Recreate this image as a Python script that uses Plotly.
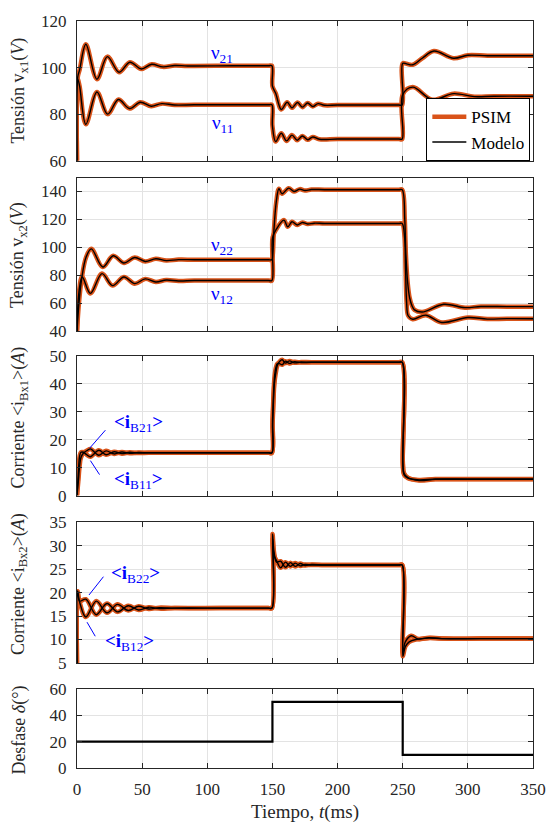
import plotly.graph_objects as go
from plotly.subplots import make_subplots

# ---- time axis ----
x_ticks = [0, 50, 100, 150, 200, 250, 300, 350]

# ---- panel 1: node voltages v21 / v11 (V) ----
t_v21 = [0, 0.6, 2, 6.8, 15.3, 23.3, 32.3, 40.6, 49.4, 57.3, 66, 75, 85, 120, 147, 149.6,
         150.0, 152.5, 156.8, 161.3, 165, 169.3, 173, 177, 181, 185, 190, 200, 230, 247, 249.6,
         250.0, 253, 257.7, 265, 274, 289, 300, 315, 335, 350]
v21 = [60, 96, 99, 110, 95, 104.7, 98, 102.3, 99.4, 101.4, 100.3, 100.9, 100.7, 100.8, 100.8,
       100.8, 92, 89, 82, 85.1, 82.7, 85, 83, 84.8, 83.3, 84.5, 83.8, 83.9, 83.9, 83.9, 83.9,
       101.8, 101.6, 101.2, 104, 107.1, 104, 105.3, 105.1, 105.1, 105.1]

t_v11 = [0, 0.6, 2, 6.8, 15.3, 23.5, 31.8, 40.3, 48.6, 57, 65, 75, 90, 120, 147, 149.6, 150.0,
         152.5, 156.8, 160.8, 165, 169, 173, 177, 181, 186, 200, 230, 247, 249.6, 250.0, 257.7,
         272.7, 289, 305, 320, 350]
v11 = [60, 95, 92, 75.6, 89.5, 80, 86.3, 82.4, 85.1, 83.4, 84.5, 83.9, 84, 84, 84, 84, 75,
       68.2, 71.8, 68.5, 71, 68.8, 70.6, 69, 70.2, 69.2, 69.3, 69.3, 69.3, 69.3, 88.4, 91.6,
       86.2, 88.8, 87.5, 87.7, 87.7]

# ---- panel 2: node voltages v22 / v12 (V) ----
t_v22 = [0, 1.5, 3.5, 7, 11, 19.8, 27.8, 36, 44.3, 52.4, 60.5, 68.5, 78, 90, 120, 147, 149.6,
         150.3, 151, 153, 155, 157.4, 162.5, 166.5, 171, 175, 180, 190, 220, 247, 249.6, 251.6,
         252.4, 253.8, 255.3, 257.2, 259, 265, 281.5, 297.8, 310, 330, 350]
v22 = [40, 60, 76.9, 93, 98.9, 85.9, 94, 88.8, 92.7, 89.9, 91.8, 90.5, 91.2, 91.1, 91.1, 91.1,
       91.1, 95, 110, 133, 142, 138.4, 142.4, 140, 141.7, 140.7, 141.4, 141.3, 141.3, 141.3,
       141.3, 119.5, 95.8, 74.6, 63.9, 58, 55.2, 53.7, 59.2, 56.8, 57.6, 57.5, 57.5]

t_v12 = [0, 1.5, 4, 10.3, 19.2, 27.3, 36, 44.3, 52.4, 60.5, 68.5, 78, 90, 120, 147, 149.6,
         150.1, 153, 158.8, 161.8, 165, 169, 173, 177, 182, 190, 220, 247, 249.6, 251.4, 252.2,
         253, 254.2, 257.7, 267.7, 280, 300, 315, 330, 350]
v12 = [40, 68, 78.8, 67, 81.2, 72.6, 78.8, 74, 77.4, 75.2, 76.6, 75.9, 76.2, 76.2, 76.2, 76.2,
       107, 113, 119.5, 114.7, 118.3, 116, 117.8, 116.7, 117.3, 117.1, 117.1, 117.1, 117.1,
       107.6, 84, 60.4, 51, 48.5, 51.4, 46.2, 49.7, 48.6, 48.9, 48.8]

# ---- panel 3: averaged currents <iB21> / <iB11> (A) ----
t_ib21 = [0, 1, 2, 3, 5, 8, 10.3, 16.8, 22.3, 28.5, 34.5, 40.5, 47, 55, 70, 110, 147, 149.6,
          150.1, 150.8, 151.5, 152.5, 153.8, 155.5, 157.5, 160, 163, 167, 172, 180, 215, 247,
          249.6, 250.1, 251, 254, 262.7, 275, 300, 350]
ib21 = [0, 5, 10.5, 13.5, 15.2, 16.2, 16.7, 14.4, 16.0, 14.9, 15.6, 15.1, 15.4, 15.3, 15.3, 15.3,
        15.3, 15.3, 24.8, 34, 40, 43.6, 46.6, 48, 48.6, 47.4, 48.2, 47.5, 47.8, 47.7, 47.7, 47.7,
        47.7, 12, 8, 6.4, 5.4, 5.8, 5.8, 5.8]

t_ib11 = [0, 1, 2, 3, 5, 7.5, 10.3, 16.8, 22.3, 28.5, 34.5, 40.5, 47, 55, 70, 110, 147, 149.6,
          150.1, 150.8, 151.5, 152.5, 153.8, 155.5, 157.5, 160, 163, 167, 172, 180, 215, 247,
          249.6, 250.1, 251, 254, 262.7, 275, 300, 350]
ib11 = [0, 8, 14, 15.5, 15.5, 14.6, 13.9, 16.2, 14.6, 15.7, 15.0, 15.5, 15.2, 15.3, 15.3, 15.3,
        15.3, 15.3, 27, 36, 42, 45.5, 47.2, 47.2, 46.8, 48.1, 47.3, 47.9, 47.6, 47.7, 47.7, 47.7,
        47.7, 11, 7.5, 6.2, 5.6, 5.9, 5.9, 5.9]

# ---- panel 4: averaged currents <iB22> / <iB12> (A) ----
t_ib22 = [0, 0.4, 2, 6.8, 14.8, 23, 31, 39.3, 47.3, 55, 63, 75, 110, 147, 149.6, 150.1, 151.2,
          153.2, 156.3, 160, 163.8, 167.5, 171.3, 175, 180, 190, 220, 247, 249.6, 250.1, 252,
          256.5, 262, 270, 280, 310, 350]
ib22 = [5, 20.3, 18.2, 18.6, 15.3, 17.7, 15.9, 17.2, 16.3, 16.9, 16.6, 16.7, 16.7, 16.7, 16.7,
        32.5, 28.7, 26.5, 26.7, 25.4, 26.4, 25.6, 26.2, 25.8, 26.0, 25.9, 25.9, 25.9, 25.9, 7.2,
        9.5, 10.8, 10.1, 10.4, 10.2, 10.2, 10.2]

t_ib12 = [0, 0.4, 2, 6.8, 14.8, 23, 31, 39.3, 47.3, 55, 63, 75, 110, 147, 149.6, 150.1, 151.2,
          153.2, 156.3, 160, 163.8, 167.5, 171.3, 175, 180, 190, 220, 247, 249.6, 250.1, 252,
          255, 260, 270, 280, 310, 350]
ib12 = [5, 20.3, 18.0, 14.8, 18.2, 15.7, 17.5, 16.2, 17.1, 16.5, 16.8, 16.7, 16.7, 16.7, 16.7,
        31.5, 28, 26.8, 25.3, 26.5, 25.6, 26.3, 25.7, 26.0, 25.9, 25.9, 25.9, 25.9, 25.9, 6.4,
        8.5, 9.5, 10.0, 10.3, 10.2, 10.2, 10.2]

# ---- panel 5: phase shift command (deg) ----
t_delta = [0, 150, 250, 350]
delta = [20, 50, 10, 10]

ORANGE = "#D95319"
AXIS = "#262626"
GRID = "#E3E3E3"
BLUE = "#0000FF"
FONT = "Liberation Serif"

W, H = 558, 830
L, R, T, B = 77, 15, 14, 62
plot_h = H - T - B

def frac(ypx):
    return (H - B - ypx) / plot_h

domains = [
    (frac(155), frac(14)),
    (frac(327), frac(172)),
    (frac(493), frac(352)),
    (frac(662), frac(520)),
    (frac(768), frac(688)),
]

fig = make_subplots(rows=5, cols=1, shared_xaxes=True)

panels = [
    [(t_v21, v21), (t_v11, v11)],
    [(t_v22, v22), (t_v12, v12)],
    [(t_ib21, ib21), (t_ib11, ib11)],
    [(t_ib22, ib22), (t_ib12, ib12)],
]

for row, series in enumerate(panels, start=1):
    for i, (t, y) in enumerate(series):
        fig.add_trace(go.Scatter(
            x=t, y=y, mode="lines", name="PSIM", legendgroup="psim",
            showlegend=(row == 1 and i == 0),
            line=dict(color=ORANGE, width=4.5, shape="spline", smoothing=1),
            hoverinfo="skip"), row=row, col=1)
    for i, (t, y) in enumerate(series):
        fig.add_trace(go.Scatter(
            x=t, y=y, mode="lines", name="Modelo", legendgroup="modelo",
            showlegend=(row == 1 and i == 0),
            line=dict(color="black", width=1.4, shape="spline", smoothing=1),
            hoverinfo="skip"), row=row, col=1)

fig.add_trace(go.Scatter(
    x=t_delta, y=delta, mode="lines", showlegend=False,
    line=dict(color="black", width=2.2, shape="hv"), hoverinfo="skip"), row=5, col=1)

y_ranges = [(60, 120), (40, 150), (0, 50), (5, 35), (0, 60)]
y_ticks = [
    [60, 80, 100, 120],
    [40, 60, 80, 100, 120, 140],
    [0, 10, 20, 30, 40, 50],
    [5, 10, 15, 20, 25, 30, 35],
    [0, 20, 40, 60],
]

for k in range(5):
    sfx = "" if k == 0 else str(k + 1)
    fig.layout["yaxis" + sfx].update(
        domain=list(domains[k]), range=list(y_ranges[k]), tickvals=y_ticks[k],
        showline=True, linecolor=AXIS, linewidth=1, mirror="ticks",
        ticks="inside", ticklen=5, tickcolor=AXIS, ticklabelstandoff=6,
        showgrid=True, gridcolor=GRID, gridwidth=1, zeroline=False,
        tickfont=dict(family=FONT, size=17, color=AXIS))
    fig.layout["xaxis" + sfx].update(
        range=[0, 350], tickvals=x_ticks,
        showline=True, linecolor=AXIS, linewidth=1, mirror="ticks",
        ticks="inside", ticklen=5, tickcolor=AXIS,
        showgrid=True, gridcolor=GRID, gridwidth=1, zeroline=False,
        showticklabels=(k == 4), ticklabelstandoff=6,
        tickfont=dict(family=FONT, size=17, color=AXIS))

# axis titles (rotated, one aligned column)
y_titles = [
    ("Tensión v<sub>x1</sub>(<i>V</i>)", 84),
    ("Tensión v<sub>x2</sub>(<i>V</i>)", 250),
    ("Corriente &lt;i<sub>Bx1</sub>&gt;(<i>A</i>)", 414),
    ("Corriente &lt;i<sub>Bx2</sub>&gt;(<i>A</i>)", 582),
    ("Desfase <i>δ</i>(°)", 730),
]
annotations = []
for text, ypx in y_titles:
    annotations.append(dict(
        text=text, xref="paper", yref="paper", x=(18 - L) / (W - L - R), y=frac(ypx),
        xanchor="center", yanchor="middle", textangle=-90, showarrow=False,
        font=dict(family=FONT, size=18, color=AXIS)))

annotations.append(dict(
    text="Tiempo, <i>t</i>(ms)", xref="paper", yref="paper", x=0.5, y=frac(812),
    xanchor="center", yanchor="middle", showarrow=False,
    font=dict(family=FONT, size=19, color=AXIS)))

# curve labels
labels = [
    ("x", "y", 111.5, 106, "ν<sub>21</sub>"),
    ("x", "y", 111.5, 75.7, "ν<sub>11</sub>"),
    ("x2", "y2", 111.5, 101, "ν<sub>22</sub>"),
    ("x2", "y2", 111.5, 65.5, "ν<sub>12</sub>"),
    ("x3", "y3", 47.5, 25.9, "<b>&lt;i</b><sub>B21</sub><b>&gt;</b>"),
    ("x3", "y3", 47.5, 5.7, "<b>&lt;i</b><sub>B11</sub><b>&gt;</b>"),
    ("x4", "y4", 45.0, 24.0, "<b>&lt;i</b><sub>B22</sub><b>&gt;</b>"),
    ("x4", "y4", 40.0, 9.4, "<b>&lt;i</b><sub>B12</sub><b>&gt;</b>"),
]
for xr, yr, xv, yv, text in labels:
    annotations.append(dict(
        text=text, xref=xr, yref=yr, x=xv, y=yv, xanchor="center", yanchor="middle",
        showarrow=False, font=dict(family=FONT, size=19, color=BLUE)))

# pointer lines from labels to curves
pointers = [
    ("x3", "y3", 9.8, 17.0, 21.8, 23.4),
    ("x3", "y3", 10.3, 12.5, 17.3, 7.5),
    ("x4", "y4", 9.2, 19.5, 20.3, 23.4),
    ("x4", "y4", 7.7, 13.7, 14.0, 10.7),
]
shapes = []
for xr, yr, x0, y0, x1, y1 in pointers:
    shapes.append(dict(type="line", xref=xr, yref=yr, x0=x0, y0=y0, x1=x1, y1=y1,
                       line=dict(color=BLUE, width=1)))

fig.update_layout(
    width=W, height=H,
    margin=dict(l=L, r=R, t=T, b=B),
    paper_bgcolor="white", plot_bgcolor="white",
    font=dict(family=FONT, color=AXIS),
    annotations=annotations, shapes=shapes,
    legend=dict(
        x=(434 - L) / (W - L - R), y=frac(92), xanchor="left", yanchor="top",
        bgcolor="white", bordercolor="black", borderwidth=1,
        font=dict(family=FONT, size=17, color="black"),
        itemwidth=34, tracegroupgap=0),
)

fig.write_html("out.html")
